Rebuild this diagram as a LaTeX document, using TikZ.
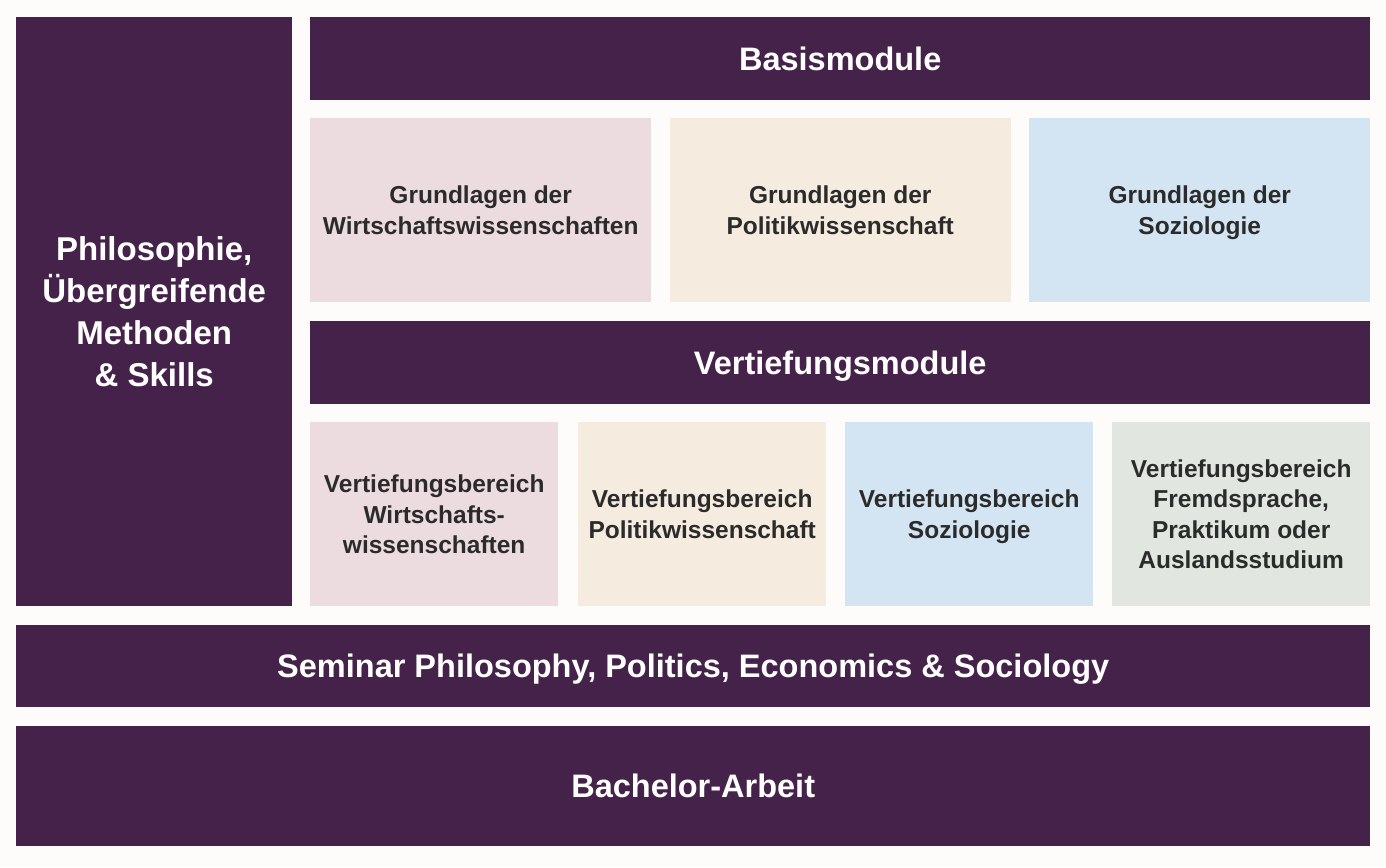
\documentclass[tikz,border=0pt]{standalone}
\usepackage{fontspec}
\setmainfont{Liberation Sans}
\usetikzlibrary{positioning}
\definecolor{pagebg}{HTML}{FDFCFB}
\definecolor{pplpurple}{HTML}{45224A}
\definecolor{wiwipink}{HTML}{EDDCDF}
\definecolor{polibeige}{HTML}{F5ECDF}
\definecolor{soziblue}{HTML}{D3E5F3}
\definecolor{extragrey}{HTML}{E1E6E1}
\definecolor{boxtext}{HTML}{2B2B2B}

\begin{document}
\begin{tikzpicture}[x=1pt,y=-1pt,
  bar/.style={fill=pplpurple, text=white, inner sep=0, anchor=north west, align=center,
    text depth=0pt, font=\bfseries\fontsize{32.5}{42}\selectfont},
  modbox/.style={text=boxtext, inner sep=0, anchor=north west, align=center,
    text depth=0pt, font=\bfseries\fontsize{24.5}{30.5}\selectfont}]
\fill[pagebg] (0,0) rectangle (1386,867);
\useasboundingbox (0,0) rectangle (1386,867);
% left column and headers
\node[bar, minimum width=276, minimum height=589, font=\bfseries\fontsize{33}{42}\selectfont] (phil) at (16,17) {Philosophie,\\Übergreifende\\Methoden\\\& Skills};
\node[bar, minimum width=1060, minimum height=83] (basis) at (310,17) {Basismodule};
\node[bar, minimum width=1060, minimum height=83] (vertief) at (310,321) {Vertiefungsmodule};
% Grundlagen
\foreach \x/\col/\name/\txt in {310/wiwipink/gwiwi/{Grundlagen der\\Wirtschaftswissenschaften},
  669.5/polibeige/gpoli/{Grundlagen der\\Politikwissenschaft},
  1029/soziblue/gsozi/{Grundlagen der\\Soziologie}} {
  \node[modbox, fill=\col, minimum width=341, minimum height=184] (\name) at (\x,118) {\txt};
}
% Vertiefungsbereiche
\foreach \x/\w/\col/\name/\txt in {310/248/wiwipink/vwiwi/{Vertiefungsbereich\\Wirtschafts-\\wissenschaften},
  578/248/polibeige/vpoli/{Vertiefungsbereich\\Politikwissenschaft},
  845/248/soziblue/vsozi/{Vertiefungsbereich\\Soziologie},
  1112/258/extragrey/vextra/{Vertiefungsbereich\\Fremdsprache,\\Praktikum oder\\Auslandsstudium}} {
  \node[modbox, fill=\col, minimum width=\w, minimum height=184] (\name) at (\x,422) {\txt};
}
% Seminar und Abschluss
\node[bar, minimum width=1354, minimum height=82] (seminar) at (16,625) {Seminar Philosophy, Politics, Economics \& Sociology};
\node[bar, minimum width=1354, minimum height=120] (bachelor) at (16,726) {Bachelor-Arbeit};
\end{tikzpicture}
\end{document}
